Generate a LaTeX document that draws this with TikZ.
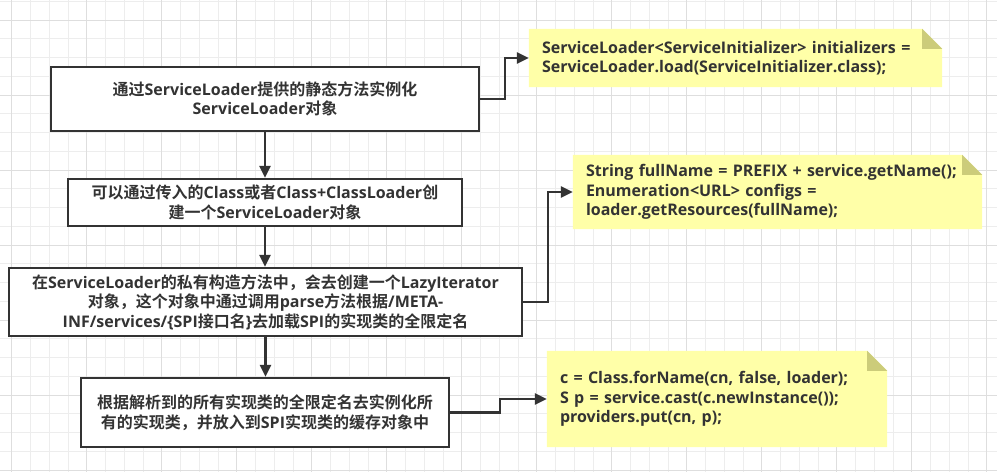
\documentclass[tikz,border=0pt]{standalone}
\usepackage{fontspec}
\setmainfont{Open Sans}
\newfontfamily\cjkfont{Noto Sans CJK SC}[BoldFont={Noto Sans CJK SC Bold}]
\usetikzlibrary{arrows.meta,calc}
\pgfdeclarelayer{bg}
\pgfsetlayers{bg,main}
\newcommand{\FOLDSIZE}{20}
\newcommand{\LINEPT}{2.4pt}
\newcommand{\TXTFONT}{\bfseries\fontsize{16}{19.5}\selectfont}
\newcommand{\zh}[1]{{\cjkfont #1}}
\definecolor{myline}{rgb}{0.2,0.2,0.2}
\definecolor{mynote}{rgb}{1.0,1.0,0.66}
\definecolor{myfold}{rgb}{0.8,0.8,0.48}
\definecolor{mygridminor}{rgb}{0.93,0.93,0.93}
\definecolor{mygridmajor}{rgb}{0.87,0.87,0.87}

\begin{document}
\begin{tikzpicture}[x=1pt,y=-1pt,
	stepbox/.style={draw=myline,fill=white,line width=\LINEPT,inner sep=0pt,align=center,font=\TXTFONT,text=myline},
	notebox/.style={inner xsep=13pt,inner ysep=0pt,align=left,font=\TXTFONT,text=myline},
	link/.style={draw=myline,line width=\LINEPT,-{Triangle[length=12pt,width=11pt]}}]
	
		\useasboundingbox (0,0) rectangle (997,472);
		
		%% grid
		\begin{pgfonlayer}{bg}
		\fill[white] (0,0) rectangle (997,472);
		\foreach \gx in {0,...,53} \draw[mygridminor,line width=1pt] ({-7+18.75*\gx},0) -- ({-7+18.75*\gx},472);
		\foreach \gy in {0,...,25} \draw[mygridminor,line width=1pt] (0,{1.25+18.75*\gy}) -- (997,{1.25+18.75*\gy});
		\foreach \gx in {0,...,13} \draw[mygridmajor,line width=1pt] ({11.75+75*\gx},0) -- ({11.75+75*\gx},472);
		\foreach \gy in {0,...,6} \draw[mygridmajor,line width=1pt] (0,{20+75*\gy}) -- (997,{20+75*\gy});
		\end{pgfonlayer}
		
		%% steps
		\node[stepbox,minimum width=428pt,minimum height=64pt] (load) at (265,99) {\zh{通过}ServiceLoader\zh{提供的静态方法实例化}\\ServiceLoader\zh{对象}};
		\node[stepbox,minimum width=394pt,minimum height=47pt] (create) at (265,202.5) {\zh{可以通过传入的}Class\zh{或者}Class+ClassLoader\zh{创}\\\zh{建一个}ServiceLoader\zh{对象}};
		\node[stepbox,minimum width=513pt,minimum height=68pt] (parse) at (265.5,302) {\zh{在}ServiceLoader\zh{的私有构造方法中，会去创建一个}LazyIterator\\\zh{对象，这个对象中通过调用}parse\zh{方法根据}/META-\\INF/services/\{SPI\zh{接口名}\}\zh{去加载}SPI\zh{的实现类的全限定名}};
		\node[stepbox,minimum width=368pt,minimum height=69pt] (cache) at (265,412.5) {\zh{根据解析到的所有实现类的全限定名去实例化所}\\\zh{有的实现类，并放入到}SPI\zh{实现类的缓存对象中}};
		
		%% notes
		\node[notebox,text width=387pt,minimum height=58pt] (noteload) at (735.5,58) {ServiceLoader<ServiceInitializer> initializers =\\ServiceLoader.load(ServiceInitializer.class);};
		\node[notebox,text width=383pt,minimum height=74pt] (noteparse) at (777.5,192) {String fullName = PREFIX + service.getName();\\Enumeration<URL> configs =\\loader.getResources(fullName);};
		\node[notebox,text width=314pt,minimum height=96pt] (notecache) at (717,399) {c = Class.forName(cn, false, loader);\\S p = service.cast(c.newInstance());\\providers.put(cn, p);};
		
		\begin{pgfonlayer}{bg}
		\foreach \n in {noteload,noteparse,notecache} {
			\fill[mynote] (\n.south west) -- (\n.north west) -- ($(\n.north east)+(-\FOLDSIZE,0)$) -- ($(\n.north east)+(0,\FOLDSIZE)$) -- (\n.south east) -- cycle;
			\fill[myfold] ($(\n.north east)+(-\FOLDSIZE,0)$) -- ($(\n.north east)+(-\FOLDSIZE,\FOLDSIZE)$) -- ($(\n.north east)+(0,\FOLDSIZE)$) -- cycle;
		}
		\end{pgfonlayer}
		
		%% connectors
		\draw[link] (load.south) -- (create.north);
		\draw[link] (create.south) -- (create.south |- parse.north);
		\draw[link] (parse.south) -- (parse.south |- cache.north);
		\draw[link] (load.east) -- ++(25,0) |- (noteload.west);
		\draw[link] (parse.east) -- ++(25,0) |- (noteparse.west);
		\draw[link] (cache.east) -- ++(50,0) |- (notecache.west);

	\end{tikzpicture}
\end{document}
